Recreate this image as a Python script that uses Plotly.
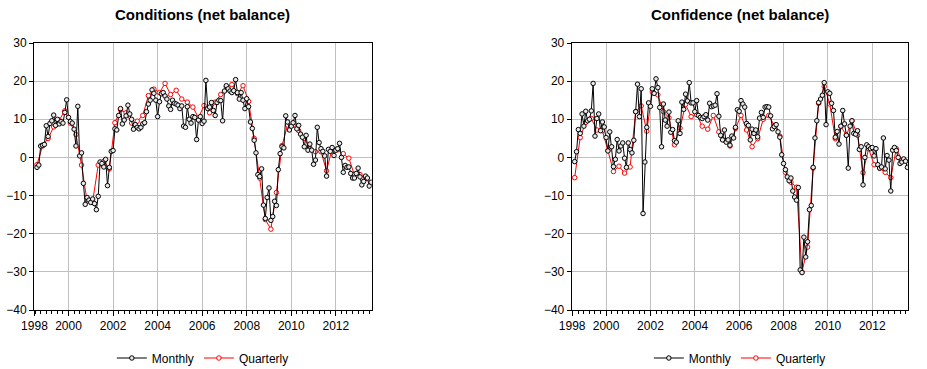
import plotly.graph_objects as go

# ---------------- data ----------------
# Monthly series, 1998M8 .. 2013M8
MONTHLY_START = (1998, 8)
cond_monthly_by_year = {
    1998: [-2.6, -2.0, 3.0, 3.2, 3.4],
    1999: [8.3, 5.5, 8.9, 9.6, 11.1, 8.4, 10.0, 8.8, 9.4, 9.0, 11.8, 15.1],
    2000: [10.5, 9.4, 9.0, 7.4, 3.0, 13.4, 0.4, 1.2, -6.8, -12.3, -10.5, -11.2],
    2001: [-11.8, -10.9, -12.1, -13.7, -10.2, -1.2, -1.6, -2.5, -0.5, -7.4, -2.6, 1.6],
    2002: [1.8, 7.5, 7.2, 11.0, 12.8, 8.8, 9.8, 10.9, 13.7, 11.4, 10.0, 7.4],
    2003: [8.6, 7.9, 7.5, 7.9, 8.8, 9.1, 12.0, 14.0, 15.0, 17.7, 16.8, 15.0],
    2004: [10.7, 14.6, 16.7, 17.0, 16.1, 15.3, 13.5, 12.6, 15.0, 14.2, 14.0, 13.7],
    2005: [12.8, 13.5, 8.2, 7.9, 13.3, 10.0, 9.0, 10.7, 10.5, 4.7, 9.8, 10.7],
    2006: [8.9, 9.5, 20.2, 12.8, 13.2, 14.4, 12.3, 11.0, 14.4, 15.0, 14.9, 9.6],
    2007: [17.4, 18.8, 18.0, 17.4, 17.0, 17.5, 20.4, 17.0, 15.3, 17.0, 15.0, 12.8],
    2008: [15.4, 13.3, 9.3, 7.6, 4.5, 1.2, -4.5, -5.0, -3.0, -12.5, -16.0, -10.5],
    2009: [-8.0, -16.5, -15.5, -11.5, -12.6, -3.2, 1.0, 2.8, 2.5, 10.9, 9.3, 7.2],
    2010: [8.2, 9.1, 11.0, 7.5, 8.4, 6.1, 5.3, 2.8, 5.8, 1.9, 3.5, 1.9],
    2011: [-1.8, -0.7, 7.9, 3.9, 2.3, 1.6, 0.4, -4.9, 2.1, 1.6, 2.6, 0.5],
    2012: [1.9, 2.3, 3.7, 0.0, -3.9, -2.1, -2.6, -2.5, -4.2, -5.4, -5.4, -4.2],
    2013: [-2.8, -5.1, -7.2, -6.3, -4.9, -5.4, -7.5, -6.5],
}
conf_monthly_by_year = {
    1998: [-1.1, 1.5, 7.3, 6.3, 11.4],
    1999: [8.2, 12.1, 9.6, 10.0, 12.2, 19.4, 5.6, 10.2, 11.4, 7.0, 9.3, 8.0],
    2000: [5.2, 1.7, 6.7, 2.8, -2.4, -0.5, 4.7, 1.7, 3.0, 3.8, -0.2, -2.6],
    2001: [3.8, 2.1, 1.2, 4.5, 12.0, 19.2, 10.7, 18.0, -14.7, -1.2, 7.9, 14.3],
    2002: [13.4, 18.0, 16.8, 20.6, 18.3, 13.1, 2.8, 14.0, 9.8, 8.2, 11.9, 6.6],
    2003: [7.3, 4.4, 4.0, 9.6, 6.3, 14.5, 12.6, 16.6, 14.8, 19.6, 14.3, 14.3],
    2004: [12.0, 14.9, 11.0, 10.5, 10.2, 10.7, 11.2, 9.8, 14.2, 13.3, 13.5, 13.7],
    2005: [16.7, 10.8, 5.8, 4.6, 7.2, 4.0, 4.6, 3.2, 5.6, 5.1, 7.9, 12.5],
    2006: [12.1, 14.9, 14.0, 13.2, 8.9, 8.4, 4.6, 7.4, 6.3, 7.2, 5.4, 10.3],
    2007: [11.8, 10.5, 13.2, 13.3, 13.2, 10.9, 7.5, 8.1, 8.6, 6.7, 5.3, 0.7],
    2008: [-1.6, -3.2, -5.1, -6.1, -5.4, -8.8, -10.4, -11.2, -7.9, -29.5, -30.2, -20.9],
    2009: [-26.1, -22.1, -13.7, -12.6, -2.6, 5.1, 9.6, 14.4, 15.3, 16.3, 19.6, 8.6],
    2010: [17.2, 16.8, 14.2, 12.3, 5.3, 6.8, 3.5, 8.2, 12.3, 8.8, 5.8, -2.8],
    2011: [8.2, 9.6, 6.3, 6.1, 7.0, 2.1, 2.8, -7.2, 0.0, 3.3, 2.8, 2.3],
    2012: [2.6, 0.4, 2.3, -1.9, -2.8, -2.5, 5.1, -3.0, 0.5, -0.7, -8.8, 1.9],
    2013: [2.6, 1.8, 0.0, -1.6, -1.2, -0.4, -1.0, -2.6],
}

# Quarterly series, 1998Q3 .. 2013Q2
QUARTERLY_START = (1998, 3)
cond_quarterly_by_year = {
    1998: [-1.9, 3.0],
    1999: [5.0, 8.0, 9.8, 12.2],
    2000: [9.0, 6.0, -2.0, -11.5],
    2001: [-11.5, -2.0, -1.0, -3.0],
    2002: [9.1, 12.5, 11.7, 9.0],
    2003: [9.5, 11.0, 16.2, 17.9],
    2004: [17.0, 19.4, 16.5, 17.6],
    2005: [15.3, 14.5, 13.2, 10.4],
    2006: [13.6, 11.7, 14.5, 16.5],
    2007: [18.5, 19.1, 16.7, 18.8],
    2008: [14.7, 5.0, -5.4, -16.3],
    2009: [-18.8, -9.2, 3.1, 8.5],
    2010: [8.4, 7.0, 5.0, 2.5],
    2011: [1.5, 1.5, -3.5, 2.3],
    2012: [2.0, 1.0, -0.2, -4.5],
    2013: [-4.5, -5.5],
}
conf_quarterly_by_year = {
    1998: [-5.3, 5.2],
    1999: [9.2, 10.2, 7.2, 7.0],
    2000: [1.8, -3.7, -2.3, -4.1],
    2001: [-2.5, 12.0, 13.5, 6.9],
    2002: [17.2, 16.4, 12.0, 10.4],
    2003: [3.3, 7.7, 13.9, 10.7],
    2004: [11.2, 8.2, 7.4, 11.0],
    2005: [6.7, 4.5, 3.0, 7.6],
    2006: [11.0, 7.2, 2.8, 4.9],
    2007: [10.0, 11.0, 8.4, 5.6],
    2008: [-3.9, -6.5, -7.8, -30.0],
    2009: [-23.5, -2.8, 14.2, 18.6],
    2010: [14.0, 4.9, 8.1, 5.8],
    2011: [9.6, 5.8, -4.0, 2.3],
    2012: [-1.9, -2.8, -3.9, -5.3],
    2013: [2.3, -0.7],
}

tick_years = [1998, 2000, 2002, 2004, 2006, 2008, 2010, 2012]
titles = ["Conditions (net balance)", "Confidence (net balance)"]
series_names = ["Monthly", "Quarterly"]


def flatten(d):
    out = []
    for y in sorted(d):
        out.extend(d[y])
    return out


def monthly_x(n):
    y0, m0 = MONTHLY_START
    return [y0 + (m0 - 1 + i) / 12 for i in range(n)]


def quarterly_x(n):
    y0, q0 = QUARTERLY_START
    # plotted at mid-quarter month
    return [y0 + (3 * (q0 - 1) + 1 + 3 * i) / 12 for i in range(n)]


cond_m = flatten(cond_monthly_by_year)
conf_m = flatten(conf_monthly_by_year)
cond_q = flatten(cond_quarterly_by_year)
conf_q = flatten(conf_quarterly_by_year)

FONT = "Arial, 'Liberation Sans', sans-serif"
W, H = 927, 369
ML, MR, MT, MB = 34, 19, 43, 59
pw = W - ML - MR
ph = H - MT - MB
dom_left = [0, (371.7 - ML) / pw]
dom_right = [(571.7 - ML) / pw, 1]
XR = [1998.45, 2013.61]

fig = go.Figure()

panels = [
    ("x", "y", "legend", cond_m, cond_q),
    ("x2", "y2", "legend2", conf_m, conf_q),
]
for xa, ya, lg, m_vals, q_vals in panels:
    fig.add_trace(go.Scatter(
        x=quarterly_x(len(q_vals)), y=q_vals, name=series_names[1],
        mode="lines+markers", xaxis=xa, yaxis=ya, legend=lg, legendrank=2,
        line=dict(color="#ff0000", width=1),
        marker=dict(symbol="circle", size=4.5, color="white",
                    line=dict(color="#ff0000", width=1)),
    ))
    fig.add_trace(go.Scatter(
        x=monthly_x(len(m_vals)), y=m_vals, name=series_names[0],
        mode="lines+markers", xaxis=xa, yaxis=ya, legend=lg, legendrank=1,
        line=dict(color="black", width=1),
        marker=dict(symbol="circle", size=4.5, color="#e8e8e8",
                    line=dict(color="black", width=1)),
    ))

xaxis_common = dict(
    range=XR, tickmode="array",
    tickvals=[1998.47] + tick_years[1:],
    ticktext=[str(y) for y in tick_years],
    ticks="outside", ticklen=5, tickcolor="black", tickwidth=1,
    showline=True, linecolor="black", linewidth=1, mirror=True,
    showgrid=True, gridcolor="#c0c0c0", gridwidth=1, zeroline=False,
    tickfont=dict(family=FONT, size=12, color="black"),
    minor=dict(tickmode="linear", tick0=2000, dtick=0.25, ticks="outside",
               ticklen=3, tickcolor="black", tickwidth=1, showgrid=False),
)
yaxis_common = dict(
    range=[-40, 30], tickmode="linear", tick0=0, dtick=10,
    ticks="outside", ticklen=4, tickcolor="black", tickwidth=1,
    showline=True, linecolor="black", linewidth=1, mirror=True,
    showgrid=True, gridcolor="#c0c0c0", gridwidth=1, zeroline=False,
    tickfont=dict(family=FONT, size=12, color="black"),
)

legend_common = dict(
    orientation="h", xanchor="center", yanchor="middle",
    yref="container", y=(H - 358) / H,
    font=dict(family=FONT, size=12, color="black"),
    bgcolor="rgba(0,0,0,0)", itemwidth=30, tracegroupgap=0,
)

fig.update_layout(
    width=W, height=H,
    margin=dict(l=ML, r=MR, t=MT, b=MB, pad=0, autoexpand=False),
    paper_bgcolor="white", plot_bgcolor="white",
    font=dict(family=FONT, size=12, color="black"),
    xaxis=dict(domain=dom_left, anchor="y", **xaxis_common),
    yaxis=dict(domain=[0, 1], anchor="x", **yaxis_common),
    xaxis2=dict(domain=dom_right, anchor="y2", **xaxis_common),
    yaxis2=dict(domain=[0, 1], anchor="x2", **yaxis_common),
    legend=dict(x=sum(dom_left) / 2, **legend_common),
    legend2=dict(x=sum(dom_right) / 2, **legend_common),
    showlegend=True,
)

title_y = 1 + (MT - 15) / ph
for dom, t in zip([dom_left, dom_right], titles):
    fig.add_annotation(
        text=f"<b>{t}</b>", xref="paper", yref="paper",
        x=sum(dom) / 2, y=title_y, xanchor="center", yanchor="middle",
        showarrow=False, font=dict(family=FONT, size=15, color="black"),
    )

fig.write_html(
    "out.html",
    config={"displayModeBar": False},
    post_script="document.body.style.margin='0';document.body.style.padding='0';",
)
